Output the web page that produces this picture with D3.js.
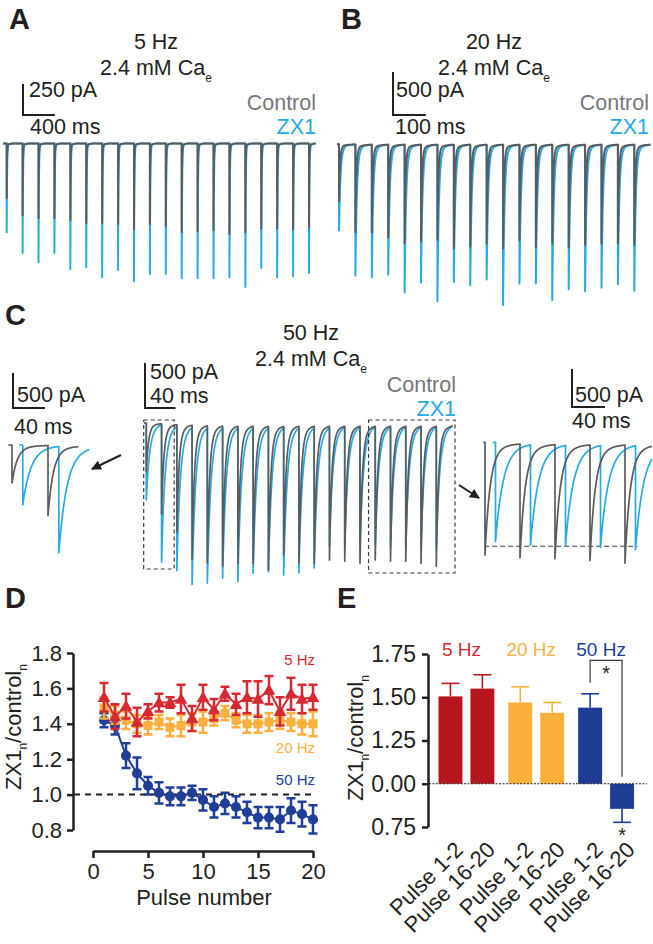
<!DOCTYPE html>
<html>
<head>
<meta charset="utf-8">
<script src="https://cdn.jsdelivr.net/npm/d3@7"></script>
<style>
  body { margin: 0; background: #fff; }
  text { font-family: "Liberation Sans", Arial, Helvetica, sans-serif; }
</style>
</head>
<body>
<svg id="fig" width="653" height="944"></svg>
<script>
// ---------- data ----------
// peak EPSC amplitude per pulse (pA)
const amp5Control = [441, 578, 602, 602, 618, 642, 642, 650, 691, 650, 667, 715, 707, 699, 731, 715, 683, 683, 691, 675];
const amp5ZX1 = [715, 884, 957, 884, 1013, 997, 1078, 1021, 1110, 1053, 1053, 1086, 1086, 1086, 1078, 1158, 1005, 1078, 1070, 1045];
const amp20Control = [666, 1021, 1021, 1079, 1148, 1130, 1110, 1206, 1188, 1148, 1206, 1110, 1195, 1148, 1195, 1168, 1148, 1148, 1168];
const amp20ZX1 = [1002, 1524, 1543, 1508, 1717, 1601, 1818, 1594, 1632, 1566, 1864, 1612, 1612, 1806, 1679, 1702, 1663, 1621, 1698];
const amp50Control = [541, 999, 1188, 1487, 1521, 1554, 1521, 1521, 1595, 1429, 1521, 1521, 1484, 1499, 1521, 1484, 1499, 1499, 1521, 1554];
const amp50ZX1 = [855, 1521, 1595, 1743, 1721, 1665, 1706, 1610, 1595, 1632, 1610, 1554, 1306, 1319, 1338, 1306, 1319, 1319, 1338, 1368];

// decay time constants (ms) and inter-pulse intervals (ms)
const tauControl = 3, tauZX1 = 4.5;
const period5 = 200, period20 = 50, period50 = 20;
const insetDelayZX1 = 6; // ZX1 trace offset in the insets (ms)

// panel D: ZX1n/controln per pulse, mean and sem
const pulseNumber = d3.range(1, 21);
const ratio5 = [1.55, 1.44, 1.50, 1.41, 1.47, 1.52, 1.52, 1.54, 1.43, 1.55, 1.48, 1.57, 1.51, 1.55, 1.54, 1.59, 1.47, 1.57, 1.54, 1.55];
const sem5 = [0.08, 0.07, 0.07, 0.08, 0.04, 0.05, 0.03, 0.08, 0.07, 0.07, 0.06, 0.04, 0.06, 0.09, 0.10, 0.08, 0.08, 0.09, 0.08, 0.07];
const ratio20 = [1.49, 1.45, 1.42, 1.40, 1.39, 1.41, 1.38, 1.39, 1.41, 1.41, 1.43, 1.46, 1.42, 1.40, 1.40, 1.41, 1.42, 1.41, 1.40, 1.40];
const sem20 = [0.06, 0.05, 0.05, 0.05, 0.05, 0.04, 0.05, 0.06, 0.05, 0.06, 0.04, 0.04, 0.04, 0.05, 0.05, 0.05, 0.05, 0.05, 0.06, 0.07];
const ratio50 = [1.42, 1.39, 1.22, 1.12, 1.05, 1.01, 0.99, 0.99, 1.01, 0.97, 0.93, 0.95, 0.93, 0.90, 0.87, 0.87, 0.86, 0.91, 0.89, 0.86];
const sem50 = [0.04, 0.05, 0.07, 0.09, 0.05, 0.06, 0.05, 0.05, 0.04, 0.06, 0.06, 0.06, 0.06, 0.06, 0.06, 0.06, 0.07, 0.07, 0.07, 0.08];
const dTicksY = [0.8, 1.0, 1.2, 1.4, 1.6, 1.8];
const dTicksX = [0, 5, 10, 15, 20];

// panel E
const eGroups = ["5 Hz", "20 Hz", "50 Hz"];
const eBins = ["Pulse 1-2", "Pulse 16-20"];
const eMeans = [1.505, 1.55, 1.47, 1.41, 1.44, 0.855];
const eSems = [0.075, 0.08, 0.09, 0.06, 0.08, 0.078];
const eTicks = [0.75, 1.0, 1.25, 1.5, 1.75];
const eTickLabels = ["0.75", "0.00", "1.25", "1.50", "1.75"];

// ---------- colours ----------
const gray = "#5b5b5d", cyan = "#27aae1";
const red = "#d52a32", orange = "#fbb040", blue = "#203e98";
const redBar = "#b5161e", orangeBar = "#fbb03b", blueBar = "#1e3b96";
const ink = "#231f20";
const TXT = 21.5;

const svg = d3.select("#fig");

// ---------- helpers ----------
function kernel(s, tau) {
    return 0.96 * Math.exp(-s / tau) + 0.04 * Math.exp(-s / 20);
}

function trace(g, o) {
    let ts = d3.range(o.from, o.to, o.dt);
    o.onsets.forEach(t => ts.push(t - 0.001, t));
    ts = ts.filter(t => t >= o.from && t <= o.to).sort((a, b) => a - b);
    const cur = t => d3.sum(o.onsets, (on, i) => t >= on ? o.amps[i] * kernel(t - on, o.tau) : 0);
    g.append("path")
        .datum(ts)
        .attr("d", d3.line().x(t => o.x(t)).y(t => o.y(cur(t))))
        .attr("fill", "none")
        .attr("stroke", o.color)
        .attr("stroke-width", o.width)
        .attr("stroke-linejoin", "round");
}

function scaleBar(g, x0, y0, w, h, l1, l2, pos) {
    g.append("path")
        .attr("d", `M${x0},${y0 - h}V${y0}H${x0 + w}`)
        .attr("fill", "none").attr("stroke", ink).attr("stroke-width", 2);
    g.append("text").attr("x", pos[0]).attr("y", pos[1]).attr("font-size", TXT).attr("fill", ink).text(l1);
    g.append("text").attr("x", pos[2]).attr("y", pos[3]).attr("font-size", TXT).attr("fill", ink).text(l2);
}

function title(x, y, hz) {
    svg.append("text").attr("x", x).attr("y", y).attr("text-anchor", "middle")
        .attr("font-size", TXT).attr("fill", ink).text(hz);
    const t = svg.append("text").attr("x", x).attr("y", y + 26).attr("text-anchor", "middle")
        .attr("font-size", TXT).attr("fill", ink);
    t.append("tspan").text("2.4 mM Ca");
    t.append("tspan").attr("font-size", 12).attr("dy", 7).text("e");
}

function legend(x, y) {
    svg.append("text").attr("x", x).attr("y", y).attr("text-anchor", "end")
        .attr("font-size", TXT).attr("fill", "#77787b").text("Control");
    svg.append("text").attr("x", x).attr("y", y + 24).attr("text-anchor", "end")
        .attr("font-size", TXT).attr("fill", cyan).text("ZX1");
}

function letter(x, y, s) {
    svg.append("text").attr("x", x).attr("y", y).attr("font-size", 29)
        .attr("font-weight", "bold").attr("fill", ink).text(s);
}

function ratioLabel(x, y) {
    const t = svg.append("text").attr("transform", `translate(${x},${y}) rotate(-90)`)
        .attr("text-anchor", "middle").attr("font-size", 22).attr("fill", ink);
    t.append("tspan").text("ZX1");
    t.append("tspan").attr("font-size", 12).attr("dy", 6).text("n");
    t.append("tspan").attr("dy", -6).text("/control");
    t.append("tspan").attr("font-size", 12).attr("dy", 6).text("n");
}

// ---------- panel A: 5 Hz ----------
letter(9, 29, "A");
title(156, 49, "5 Hz");
legend(316, 110);
{
    const x = d3.scaleLinear().domain([0, 19 * period5]).range([6.7, 309]);
    const y = d3.scaleLinear().domain([0, 250]).range([143.5, 174.5]);
    const onsets = amp5Control.map((d, i) => i * period5);
    const g = svg.append("g");
    trace(g, { onsets, amps: amp5ZX1, tau: tauZX1, x, y, from: -45, to: 3885, dt: 1, color: cyan, width: 2 });
    trace(g, { onsets, amps: amp5Control, tau: tauControl, x, y, from: -45, to: 3885, dt: 1, color: gray, width: 2 });
    scaleBar(svg, 23, 115, x(400) - x(0), y(250) - y(0), "250 pA", "400 ms", [29, 97, 30, 134]);
}

// ---------- panel B: 20 Hz ----------
letter(341, 29, "B");
title(494, 49, "20 Hz");
legend(649, 110);
{
    const x = d3.scaleLinear().domain([0, 18 * period20]).range([339, 634.3]);
    const y = d3.scaleLinear().domain([0, 500]).range([144.3, 187.3]);
    const onsets = amp20Control.map((d, i) => i * period20);
    const g = svg.append("g");
    trace(g, { onsets, amps: amp20ZX1, tau: tauZX1, x, y, from: -6, to: 950, dt: 0.5, color: cyan, width: 2 });
    trace(g, { onsets, amps: amp20Control, tau: tauControl, x, y, from: -6, to: 950, dt: 0.5, color: gray, width: 2 });
    scaleBar(svg, 393, 115, x(100) - x(0), y(500) - y(0), "500 pA", "100 ms", [396, 97, 395, 134]);
}

// ---------- panel C: 50 Hz ----------
letter(5, 325, "C");
title(311, 340, "50 Hz");
legend(456, 392);
{
    const x = d3.scaleLinear().domain([0, 19 * period50]).range([146.3, 436.3]);
    const y = d3.scaleLinear().domain([0, 500]).range([423, 468]);
    const onsets = amp50Control.map((d, i) => i * period50);
    const g = svg.append("g");
    trace(g, { onsets, amps: amp50ZX1, tau: tauZX1, x, y, from: -3, to: 400, dt: 0.2, color: cyan, width: 1.7 });
    trace(g, { onsets, amps: amp50Control, tau: tauControl, x, y, from: -3, to: 402, dt: 0.2, color: gray, width: 1.7 });
    scaleBar(svg, 145, 408, x(40) - x(0), y(500) - y(0), "500 pA", "40 ms", [150, 379, 150, 403]);

    // dashed boxes around pulses 1-2 and 16-20
    const box = (x0, x1, y1) => svg.append("rect")
        .attr("x", x0).attr("y", 420).attr("width", x1 - x0).attr("height", y1 - 420)
        .attr("fill", "none").attr("stroke", "#3b3b3d").attr("stroke-width", 1.2)
        .attr("stroke-dasharray", "4,3");
    box(x(onsets[0]) - 2.6, x(onsets[2]) - 2.6, 569);
    box(x(onsets[15]) - 6.7, x(onsets[19]) + 18.7, 573);

    // left inset: pulses 1-2
    const xl = d3.scaleLinear().domain([0, 20]).range([12, 48]);
    const yl = d3.scaleLinear().domain([0, 500]).range([445, 480]);
    const gl = svg.append("g");
    trace(gl, { onsets: [0, 20].map(t => t + insetDelayZX1), amps: amp50ZX1.slice(0, 2), tau: tauZX1, x: xl, y: yl, from: 4, to: 43, dt: 0.1, color: cyan, width: 1.7 });
    trace(gl, { onsets: [0, 20], amps: amp50Control.slice(0, 2), tau: tauControl, x: xl, y: yl, from: -2, to: 37, dt: 0.1, color: gray, width: 1.7 });
    scaleBar(svg, 13, 408, 32, yl(500) - yl(0), "500 pA", "40 ms", [17, 402, 14, 434]);

    // right inset: pulses 16-20
    const xr = d3.scaleLinear().domain([0, 20]).range([485, 520]);
    const yr = d3.scaleLinear().domain([0, 500]).range([442.3, 480.3]);
    const gr = svg.append("g");
    const on5 = [0, 20, 40, 60, 80];
    const ampR = amp50ZX1.slice(15, 20);
    gr.append("line")
        .attr("x1", xr(-0.5)).attr("x2", xr(87)).attr("y1", yr(d3.max(ampR))).attr("y2", yr(d3.max(ampR)))
        .attr("stroke", "#3b3b3d").attr("stroke-width", 1.2).attr("stroke-dasharray", "5,3");
    trace(gr, { onsets: on5.map(t => t + insetDelayZX1), amps: ampR, tau: tauZX1, x: xr, y: yr, from: 4.5, to: 95.5, dt: 0.1, color: cyan, width: 1.7 });
    trace(gr, { onsets: on5, amps: amp50Control.slice(15, 20), tau: tauControl, x: xr, y: yr, from: -1, to: 95.5, dt: 0.1, color: gray, width: 1.7 });
    scaleBar(svg, 572, 407, 33, yr(500) - yr(0), "500 pA", "40 ms", [575, 402, 572, 428]);

    // arrows
    const defs = svg.append("defs");
    defs.append("marker").attr("id", "ah").attr("viewBox", "0 0 10 10")
        .attr("refX", 9).attr("refY", 5).attr("markerWidth", 5).attr("markerHeight", 5)
        .attr("orient", "auto")
        .append("path").attr("d", "M0,0L10,5L0,10z").attr("fill", ink);
    svg.append("line").attr("x1", 121).attr("y1", 455).attr("x2", 92).attr("y2", 469)
        .attr("stroke", ink).attr("stroke-width", 2).attr("marker-end", "url(#ah)");
    svg.append("line").attr("x1", 459).attr("y1", 485).attr("x2", 479).attr("y2", 498)
        .attr("stroke", ink).attr("stroke-width", 2).attr("marker-end", "url(#ah)");
}

// ---------- panel D ----------
letter(5, 608, "D");
{
    const x = d3.scaleLinear().domain([0, 20]).range([93, 313]);
    const y = d3.scaleLinear().domain([0.8, 1.8]).range([830, 653]);

    const ax = svg.append("g").attr("transform", "translate(73,0)")
        .call(d3.axisLeft(y).tickValues(dTicksY).tickFormat(d3.format(".1f")).tickSize(6).tickSizeOuter(0).tickPadding(5));
    const bx = svg.append("g").attr("transform", "translate(0,851)")
        .call(d3.axisBottom(x).tickValues(dTicksX).tickSize(7).tickSizeOuter(0).tickPadding(5));
    [ax, bx].forEach(a => {
        a.selectAll("path,line").attr("stroke", ink).attr("stroke-width", 2.5);
        a.selectAll("text").attr("font-size", 22).attr("fill", ink)
            .attr("font-family", '"Liberation Sans", Arial, sans-serif');
    });

    svg.append("line").attr("x1", 74).attr("x2", 313).attr("y1", y(1)).attr("y2", y(1))
        .attr("stroke", ink).attr("stroke-width", 2).attr("stroke-dasharray", "6,5");

    const series = [
        { m: ratio50, e: sem50, c: blue, shape: d3.symbolCircle, size: 80 },
        { m: ratio20, e: sem20, c: orange, shape: d3.symbolSquare, size: 80 },
        { m: ratio5, e: sem5, c: red, shape: d3.symbolTriangle, size: 70 }
    ];
    series.forEach(s => {
        const g = svg.append("g");
        const pts = pulseNumber.map((n, i) => ({ n, m: s.m[i], e: s.e[i] }));
        g.append("path").datum(pts)
            .attr("d", d3.line().x(d => x(d.n)).y(d => y(d.m)))
            .attr("fill", "none").attr("stroke", s.c).attr("stroke-width", 2);
        g.selectAll("path.eb").data(pts).join("path").attr("class", "eb")
            .attr("d", d => `M${x(d.n) - 4.5},${y(d.m + d.e)}h9M${x(d.n)},${y(d.m + d.e)}V${y(d.m - d.e)}M${x(d.n) - 4.5},${y(d.m - d.e)}h9`)
            .attr("fill", "none").attr("stroke", s.c).attr("stroke-width", 2.5);
        g.selectAll("path.mk").data(pts).join("path").attr("class", "mk")
            .attr("transform", d => `translate(${x(d.n)},${y(d.m) + (s.shape === d3.symbolTriangle ? 1 : 0)})`)
            .attr("d", d3.symbol().type(s.shape).size(s.size))
            .attr("fill", s.c);
    });

    svg.append("text").attr("x", 315).attr("y", 665).attr("text-anchor", "end")
        .attr("font-size", 15).attr("fill", red).text("5 Hz");
    svg.append("text").attr("x", 315).attr("y", 753).attr("text-anchor", "end")
        .attr("font-size", 15).attr("fill", orange).text("20 Hz");
    svg.append("text").attr("x", 315).attr("y", 785).attr("text-anchor", "end")
        .attr("font-size", 15).attr("fill", blue).text("50 Hz");

    svg.append("text").attr("x", 204).attr("y", 905).attr("text-anchor", "middle")
        .attr("font-size", 22).attr("fill", ink).text("Pulse number");
    ratioLabel(21, 727);
}

// ---------- panel E ----------
letter(337, 608, "E");
{
    const y = d3.scaleLinear().domain([0.75, 1.75]).range([827, 654]);
    const gx = d3.scaleBand().domain(eGroups).range([431.5, 641]).paddingInner(0.2).paddingOuter(0.1);
    const bx = d3.scaleBand().domain(eBins).range([0, gx.bandwidth()]).paddingInner(0.25);
    const barColors = [redBar, orangeBar, blueBar];
    const labelColors = [red, orange, blue];

    const ax = svg.append("g").attr("transform", "translate(428,0)")
        .call(d3.axisLeft(y).tickValues(eTicks).tickFormat((d, i) => eTickLabels[i]).tickSize(6).tickSizeOuter(0).tickPadding(6));
    ax.selectAll("path,line").attr("stroke", ink).attr("stroke-width", 2.5);
    ax.selectAll("text").attr("font-size", 23).attr("fill", ink)
        .attr("font-family", '"Liberation Sans", Arial, sans-serif');

    const bars = eMeans.map((m, i) => ({
        g: eGroups[Math.floor(i / 2)], b: eBins[i % 2], m, e: eSems[i], c: barColors[Math.floor(i / 2)]
    }));
    bars.forEach(d => { d.x0 = gx(d.g) + bx(d.b); d.cx = d.x0 + bx.bandwidth() / 2; });

    svg.selectAll("line.err").data(bars).join("line").attr("class", "err")
        .attr("x1", d => d.cx).attr("x2", d => d.cx)
        .attr("y1", d => y(d.m)).attr("y2", d => y(d.m >= 1 ? d.m + d.e : d.m - d.e))
        .attr("stroke", d => d.c).attr("stroke-width", 1.6);
    svg.selectAll("line.cap").data(bars).join("line").attr("class", "cap")
        .attr("x1", d => d.cx - 9).attr("x2", d => d.cx + 9)
        .attr("y1", d => y(d.m >= 1 ? d.m + d.e : d.m - d.e)).attr("y2", d => y(d.m >= 1 ? d.m + d.e : d.m - d.e))
        .attr("stroke", d => d.c).attr("stroke-width", 1.6);
    svg.selectAll("rect.bar").data(bars).join("rect").attr("class", "bar")
        .attr("x", d => d.x0).attr("width", bx.bandwidth())
        .attr("y", d => Math.min(y(d.m), y(1))).attr("height", d => Math.abs(y(d.m) - y(1)))
        .attr("fill", d => d.c);

    svg.append("line").attr("x1", 429).attr("x2", 647).attr("y1", y(1)).attr("y2", y(1))
        .attr("stroke", ink).attr("stroke-width", 1).attr("stroke-dasharray", "2,1.5");

    // significance bracket
    const b5 = bars[4], b6 = bars[5];
    svg.append("path")
        .attr("d", `M${b5.cx},${y(b5.m + b5.e) - 11}V${y(1.73) + 3}H${b6.cx}V${y(1) - 7}`)
        .attr("fill", "none").attr("stroke", "#3b3b3d").attr("stroke-width", 1.2);
    svg.append("text").attr("x", (b5.cx + b6.cx) / 2).attr("y", 680).attr("text-anchor", "middle")
        .attr("font-size", 20).attr("fill", ink).text("*");
    svg.append("text").attr("x", b6.cx).attr("y", y(b6.m - b6.e) + 20).attr("text-anchor", "middle")
        .attr("font-size", 20).attr("fill", ink).text("*");

    // group labels
    eGroups.forEach((gname, i) => {
        svg.append("text").attr("x", gx(gname) + gx.bandwidth() / 2 - 5).attr("y", 656)
            .attr("text-anchor", "middle").attr("font-size", 19).attr("fill", labelColors[i]).text(gname);
    });

    // rotated category labels
    bars.forEach(d => {
        svg.append("text").attr("transform", `translate(${d.cx + 14},${851}) rotate(-45)`)
            .attr("text-anchor", "end").attr("font-size", 22).attr("fill", ink).text(d.b);
    });

    ratioLabel(363, 738);
}
</script>
</body>
</html>
